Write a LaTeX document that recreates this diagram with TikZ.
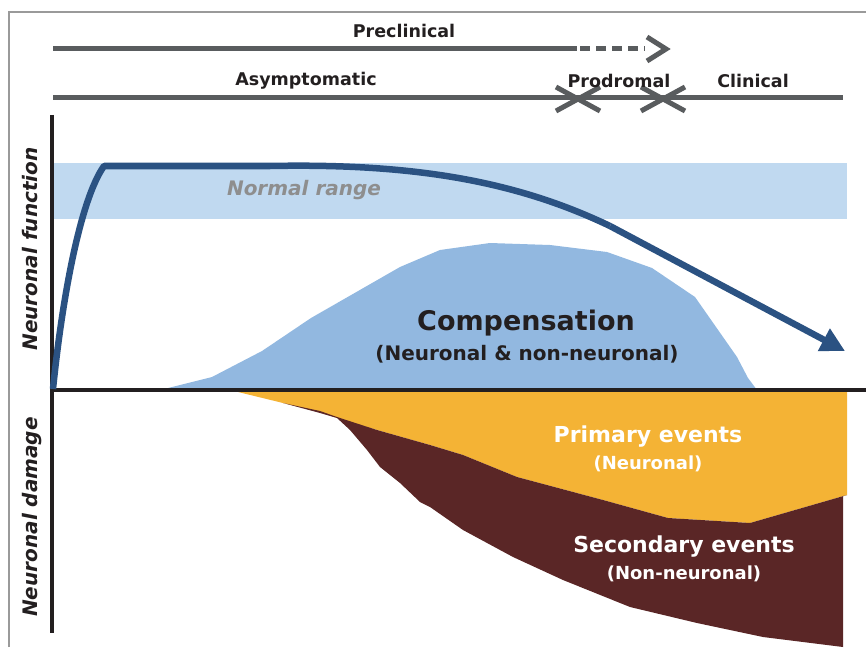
\documentclass[tikz,border=0pt]{standalone}
\usepackage{fontspec}
\setmainfont{DejaVu Sans}
\usetikzlibrary{arrows.meta}
\definecolor{framegray}{HTML}{9A9A9A}
\definecolor{phasegray}{HTML}{595C5E}
\definecolor{axisblack}{HTML}{231F20}
\definecolor{bandblue}{HTML}{C0D9F0}
\definecolor{compblue}{HTML}{92B8E0}
\definecolor{curveblue}{HTML}{2B5282}
\definecolor{primorange}{HTML}{F4B335}
\definecolor{secbrown}{HTML}{5A2626}
\definecolor{rangegray}{HTML}{8E8E8E}
\tikzset{
  phaseline/.style={draw=phasegray, line width=5pt},
  phasetext/.style={font=\bfseries\fontsize{17.5}{20}\selectfont, text=axisblack, inner sep=0pt},
  axisline/.style={draw=axisblack, line width=4pt},
  ylabel/.style={font=\bfseries\itshape\fontsize{20}{22}\selectfont, text=axisblack, rotate=90, inner sep=0pt},
  bigtext/.style={font=\bfseries\fontsize{27}{30}\selectfont, inner sep=0pt},
  subtext/.style={font=\bfseries\fontsize{20}{22}\selectfont, inner sep=0pt},
  evtext/.style={font=\bfseries\fontsize{22}{24}\selectfont, inner sep=0pt, text=white},
  evsub/.style={font=\bfseries\fontsize{18}{20}\selectfont, inner sep=0pt, text=white},
}
\begin{document}
\begin{tikzpicture}[x=1pt,y=-1pt]
\useasboundingbox (0,0) rectangle (866,647);

% outer frame
\draw[framegray, line width=1.2pt] (9,647) -- (9,12) -- (866,12);

% normal range band
\fill[bandblue] (54,163) rectangle (847,219);
\node[font=\bfseries\itshape\fontsize{20}{22}\selectfont, text=rangegray, inner sep=0pt] (normal) at (304,190) {Normal range};

% compensation area
\fill[compblue] (160,390) -- (212,377) -- (262,351) -- (311,318) -- (400,267) -- (440,250)
  -- (490,243) -- (550,245) -- (607,252) -- (652,268) -- (695,297) -- (737,357)
  -- (748,378) -- (757,390) -- cycle;

% primary events (neuronal)
\fill[primorange] (238,392) -- (847,392) -- (847,495) -- (750,523) -- (668,518)
  -- (603,500) -- (517,477) -- (463,455) -- (430,445) -- (377,430) -- (337,418)
  -- (320,412) -- (283,403) -- cycle;

% secondary events (non-neuronal)
\fill[secbrown] (283,403) -- (320,411) -- (337,417) -- (377,430) -- (430,445) -- (463,455)
  -- (517,477) -- (603,500) -- (668,518) -- (750,523) -- (847,495) -- (843,496)
  -- (843,647) -- (763,637) -- (697,623) -- (630,607) -- (563,580) -- (513,557)
  -- (463,530) -- (430,507) -- (420,502) -- (400,483) -- (380,467) -- (367,450)
  -- (350,430) -- (337,418) -- (320,413) -- cycle;

% axes
\draw[axisline] (52,115) -- (52,633);
\draw[axisline] (52,390) -- (866,390);

% neuronal function curve
\coordinate (fstart) at (53,389);
\coordinate (fpeak) at (104,166);
\coordinate (fflat) at (270,166);
\coordinate (fbend) at (610,226);
\coordinate (fend) at (845,351);
\draw[curveblue, line width=6.5pt, line join=round]
  (fstart) .. controls (62,300) and (80,200) .. (fpeak) -- (fflat)
  .. controls (420,163) and (520,183) .. (fbend);
\draw[curveblue, line width=6.5pt, -{Triangle[length=24pt,width=24pt]}] (fbend) -- (fend);

% phase lines
\coordinate (pre0) at (53,49);
\coordinate (pre1) at (577,49);
\coordinate (pre2) at (645,49);
\coordinate (pretip) at (666,49);
\draw[phaseline] (pre0) -- (pre1);
\draw[phaseline, dash pattern=on 10pt off 6pt] (580,49) -- (pre2);
\draw[phaseline] (647,37) -- (pretip) -- (647,61);
\node[phasetext] (precl) at (404,31) {Preclinical};

\coordinate (st0) at (53,98);
\coordinate (st1) at (843,98);
\draw[phaseline] (st0) -- (st1);
\coordinate (xa) at (578,99);
\coordinate (xb) at (663,99);
\draw[phaseline] (556,87) -- (600,111) (556,111) -- (600,87);
\draw[phaseline] (641,87) -- (685,111) (641,111) -- (685,87);
\node[phasetext] (asym) at (306,81) {Asymptomatic};
\node[phasetext] (prod) at (619,81) {Prodromal};
\node[phasetext] (clin) at (753,81) {Clinical};

% axis labels
\node[ylabel] (yfun) at (30,249) {Neuronal function};
\node[ylabel] (ydam) at (32,517) {Neuronal damage};

% area labels
\node[bigtext, text=axisblack] (comp) at (526,323) {Compensation};
\node[subtext, text=axisblack] (compsub) at (527,354) {(Neuronal \& non-neuronal)};
\node[evtext] (prim) at (648,437) {Primary events};
\node[evsub] (primsub) at (648,464) {(Neuronal)};
\node[evtext] (sec) at (684,547) {Secondary events};
\node[evsub] (secsub) at (684,574) {(Non-neuronal)};
\end{tikzpicture}
\end{document}
